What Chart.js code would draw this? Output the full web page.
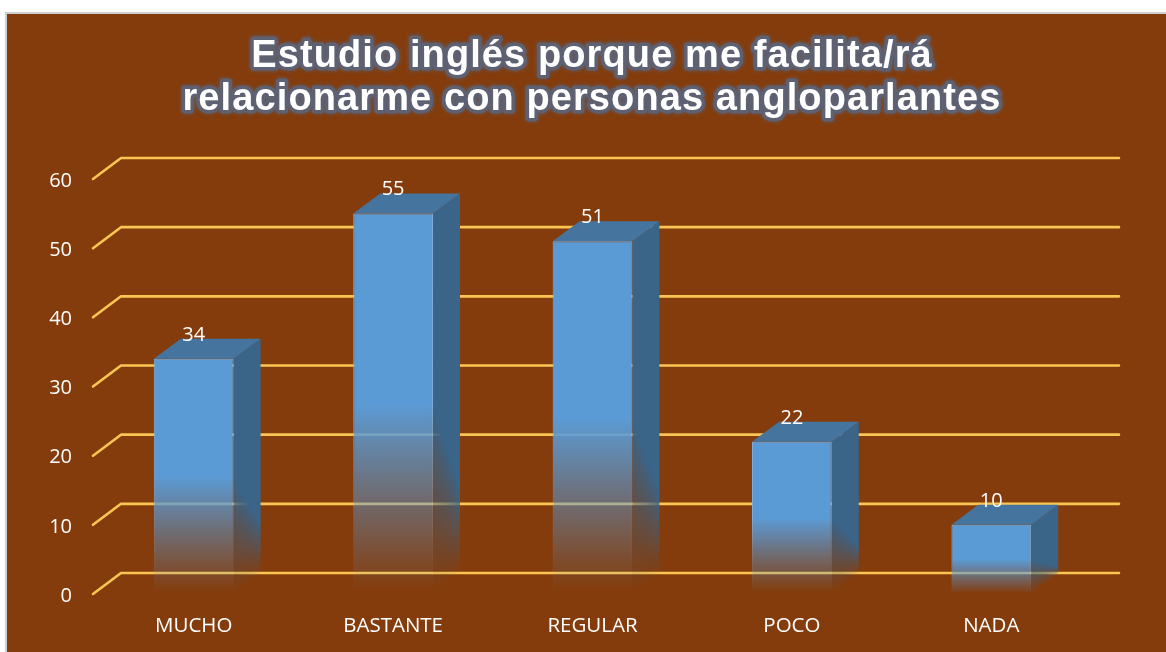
<!DOCTYPE html>
<html>
<head>
<meta charset="utf-8">
<title>Estudio inglés</title>
<script src="https://cdn.jsdelivr.net/npm/chart.js@4/dist/chart.umd.min.js"></script>
<style>
    html, body { margin: 0; padding: 0; background: #ffffff; }
    canvas { display: block; }
</style>
</head>
<body>
<canvas id="grafico" width="1166" height="652"></canvas>
<script>
// Datos
const categorias = ['MUCHO', 'BASTANTE', 'REGULAR', 'POCO', 'NADA'];
const valores = [34, 55, 51, 22, 10];
const tituloLineas = ['Estudio inglés porque me facilita/rá', 'relacionarme con personas angloparlantes'];
const ejeMax = 60;
const ejePaso = 10;

// Profundidad de la falsa perspectiva 3D
const fondoX = 27;
const fondoY = 20;

const colorFondo = '#843C0C';
const colorLinea = '#FAC653';
const fuente = '"Open Sans", "Noto Sans", sans-serif';

// Degradado de la cara frontal: opaco en la mitad superior, transparente abajo
function degradadoFrontal(context, r, g, b) {
    const chart = context.chart;
    const y = chart.scales.y;
    if (!y || context.raw === undefined) return `rgb(${r},${g},${b})`;
    const arriba = y.getPixelForValue(context.raw);
    const abajo = y.getPixelForValue(0);
    // la escala todavia no tiene tamaño en la primera pasada
    if (!Number.isFinite(arriba) || !Number.isFinite(abajo)) return `rgb(${r},${g},${b})`;
    const grad = chart.ctx.createLinearGradient(0, arriba, 0, abajo);
    grad.addColorStop(0, `rgba(${r},${g},${b},1)`);
    grad.addColorStop(0.5, `rgba(${r},${g},${b},1)`);
    grad.addColorStop(0.99, `rgba(${r},${g},${b},0)`);
    return grad;
}

const pluginFondo = {
    id: 'fondo',
    beforeDraw(chart) {
        const ctx = chart.ctx;
        ctx.save();
        ctx.fillStyle = '#ffffff';
        ctx.fillRect(0, 0, chart.width, chart.height);
        ctx.fillStyle = '#CFCFCF';
        ctx.fillRect(5, 12, chart.width - 5, chart.height - 12);
        ctx.fillStyle = colorFondo;
        ctx.fillRect(7, 14, chart.width - 7, chart.height - 14);
        ctx.restore();
    }
};

// Lineas de cuadricula en "L" y caras lateral y superior de las barras
const plugin3D = {
    id: 'barras3d',
    beforeDatasetsDraw(chart) {
        const ctx = chart.ctx;
        const yEje = chart.scales.y;
        const area = chart.chartArea;
        ctx.save();
        ctx.strokeStyle = colorLinea;
        ctx.lineWidth = 2.6;
        ctx.lineCap = 'round';
        ctx.lineJoin = 'round';
        yEje.ticks.forEach(t => {
            const py = yEje.getPixelForValue(t.value);
            ctx.beginPath();
            ctx.moveTo(area.left - 1, py);
            ctx.lineTo(area.left + fondoX, py - fondoY - 1);
            ctx.lineTo(area.right + fondoX + 1, py - fondoY - 1);
            ctx.stroke();
        });

        // etiquetas del eje Y, van un poco por debajo de su linea
        ctx.fillStyle = '#ffffff';
        ctx.font = `20px ${fuente}`;
        ctx.textAlign = 'right';
        ctx.textBaseline = 'middle';
        yEje.ticks.forEach(t => {
            ctx.fillText(String(t.value), 72, yEje.getPixelForValue(t.value) + 2);
        });

        chart.getDatasetMeta(0).data.forEach(bar => {
            const izq = bar.x - bar.width / 2;
            const der = bar.x + bar.width / 2;
            const arriba = bar.y;
            const abajo = bar.base;
            const medio = arriba + (abajo - arriba) * 0.5;

            // cara lateral por tiras: cada columna se desvanece a su propia altura
            ctx.save();
            ctx.beginPath();
            ctx.moveTo(der, arriba);
            ctx.lineTo(der + fondoX, arriba - fondoY);
            ctx.lineTo(der + fondoX, abajo - fondoY);
            ctx.lineTo(der, abajo);
            ctx.closePath();
            ctx.clip();
            const xIni = Math.floor(der);
            for (let i = 0; i <= fondoX; i++) {
                const frac = i / fondoX;
                const fin = abajo - fondoY * frac;
                const ini = medio + (abajo - fondoY - medio) * 0.5 * frac;
                const tira = ctx.createLinearGradient(0, ini, 0, fin);
                tira.addColorStop(0, 'rgba(58,100,136,1)');
                tira.addColorStop(1, 'rgba(58,100,136,0)');
                ctx.fillStyle = tira;
                ctx.fillRect(xIni + i, arriba - fondoY, 1, abajo - arriba + fondoY);
            }
            ctx.restore();

            // cara superior
            ctx.fillStyle = '#45749E';
            ctx.beginPath();
            ctx.moveTo(izq, arriba);
            ctx.lineTo(izq + fondoX, arriba - fondoY);
            ctx.lineTo(der + fondoX, arriba - fondoY);
            ctx.lineTo(der, arriba);
            ctx.closePath();
            ctx.fill();
        });
        ctx.restore();
    },
    afterDatasetsDraw(chart) {
        const ctx = chart.ctx;
        ctx.save();
        ctx.fillStyle = '#ffffff';
        ctx.font = `20px ${fuente}`;
        ctx.textAlign = 'center';
        ctx.textBaseline = 'middle';
        chart.getDatasetMeta(0).data.forEach((bar, i) => {
            ctx.fillText(String(valores[i]), bar.x, bar.y - 24);
        });
        ctx.restore();
    }
};

// Titulo con halo gris
const pluginTitulo = {
    id: 'tituloHalo',
    afterDraw(chart) {
        const ctx = chart.ctx;
        const posY = [57, 100];
        ctx.save();
        ctx.font = 'bold 38px "Liberation Sans", Arial, sans-serif';
        ctx.letterSpacing = '1.1px';
        ctx.textAlign = 'center';
        ctx.textBaseline = 'middle';
        tituloLineas.forEach((linea, i) => {
            ctx.shadowColor = '#5E6172';
            ctx.shadowBlur = 4;
            ctx.strokeStyle = '#5E6172';
            ctx.lineWidth = 7;
            ctx.lineJoin = 'round';
            ctx.strokeText(linea, 592, posY[i]);
            ctx.shadowBlur = 0;
            ctx.shadowColor = 'transparent';
        });
        // el blanco va despues para que el halo de una linea no lo tape
        ctx.fillStyle = '#ffffff';
        tituloLineas.forEach((linea, i) => {
            ctx.fillText(linea, 592, posY[i]);
        });
        ctx.restore();
    }
};

new Chart(document.getElementById('grafico'), {
    type: 'bar',
    data: {
        labels: categorias,
        datasets: [{
            data: valores,
            backgroundColor: context => degradadoFrontal(context, 91, 155, 213),
            borderColor: context => degradadoFrontal(context, 125, 175, 222),
            borderWidth: 1,
            barPercentage: 0.4,
            categoryPercentage: 1
        }]
    },
    options: {
        responsive: false,
        animation: false,
        layout: {
            padding: { top: 179, right: 75, left: 0, bottom: 0 }
        },
        plugins: {
            legend: { display: false },
            title: { display: false },
            tooltip: { enabled: false }
        },
        scales: {
            y: {
                min: 0,
                max: ejeMax,
                border: { display: false },
                grid: { display: false, drawTicks: false },
                afterFit(scale) { scale.width = 94; },
                ticks: {
                    stepSize: ejePaso,
                    display: false
                }
            },
            x: {
                border: { display: false },
                grid: { display: false, drawTicks: false },
                afterFit(scale) { scale.height = 58; },
                ticks: {
                    color: '#ffffff',
                    padding: 20,
                    maxRotation: 0,
                    font: { family: fuente, size: 20.5 }
                }
            }
        }
    },
    plugins: [pluginFondo, plugin3D, pluginTitulo]
});
</script>
</body>
</html>
